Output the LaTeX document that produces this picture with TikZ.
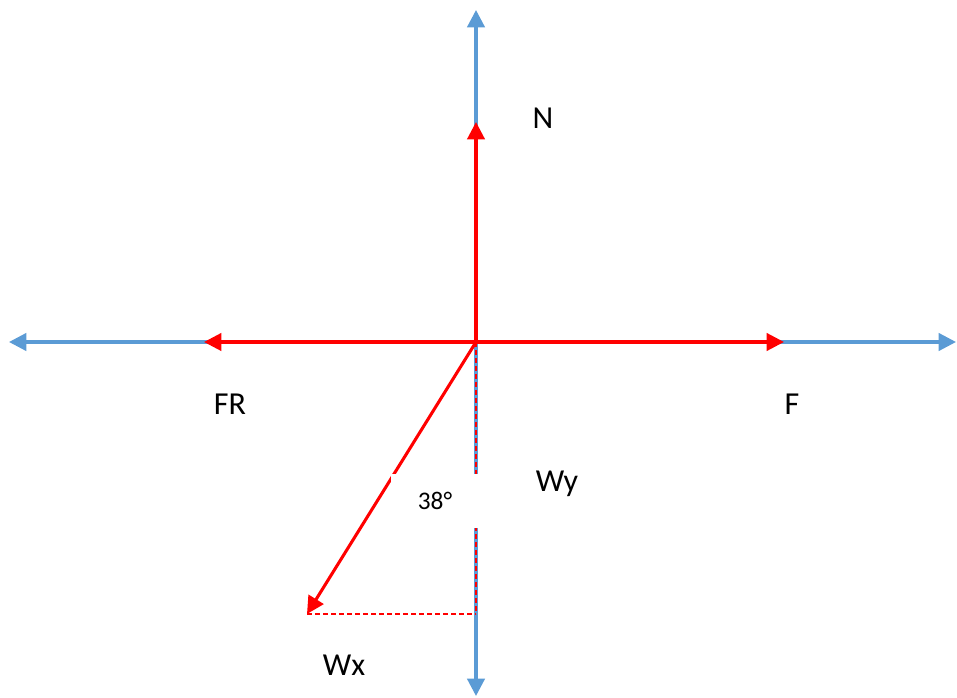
\documentclass[tikz,border=0pt]{standalone}
\usepackage{fontspec}
\setmainfont{Carlito}
\usetikzlibrary{arrows.meta}
\definecolor{axisblue}{HTML}{5B9BD5}
\definecolor{forcered}{HTML}{FF0000}

\begin{document}
\begin{tikzpicture}[x=0.75pt,y=-0.75pt,
  axis/.style={draw=axisblue,line width=2.4pt,-{Triangle[length=13pt,width=13pt]}},
  force/.style={draw=forcered,line width=2.3pt,-{Triangle[length=13pt,width=13pt]}},
  guide/.style={draw=forcered,line width=0.9pt,dash pattern=on 4pt off 2pt},
  lbl/.style={anchor=base,font=\fontsize{24}{28}\selectfont}]
  \useasboundingbox (0,0) rectangle (957,698);
  % axes
  \coordinate (o) at (476,342);
  \coordinate (top) at (476,10);
  \coordinate (bottom) at (476,696);
  \coordinate (left) at (9,342);
  \coordinate (right) at (956,342);
  \draw[axis] (o) -- (top);
  \draw[axis] (o) -- (bottom);
  \draw[axis] (o) -- (left);
  \draw[axis] (o) -- (right);
  % forces
  \coordinate (ntip) at (476,122);
  \coordinate (frtip) at (204,342);
  \coordinate (ftip) at (784,342);
  \coordinate (wtip) at (307,614);
  \coordinate (wycorner) at (476,614);
  \draw[guide] (o) -- (wycorner);
  \draw[guide] (wtip) -- (wycorner);
  \draw[force] (o) -- (ntip);
  \draw[force] (o) -- (frtip);
  \draw[force] (o) -- (ftip);
  \draw[force] (o) -- (wtip);
  \node[fill=white,minimum width=66pt,minimum height=40pt,inner sep=0pt,
    font=\fontsize{19}{23}\selectfont] (angle) at (435,501) {38°};
  % labels
  \node[lbl] (nlabel) at (543,129) {N};
  \node[lbl] (frlabel) at (230,415) {FR};
  \node[lbl] (flabel) at (792,415) {F};
  \node[lbl] (wylabel) at (557,491) {Wy};
  \node[lbl] (wxlabel) at (344,675) {Wx};
\end{tikzpicture}
\end{document}
